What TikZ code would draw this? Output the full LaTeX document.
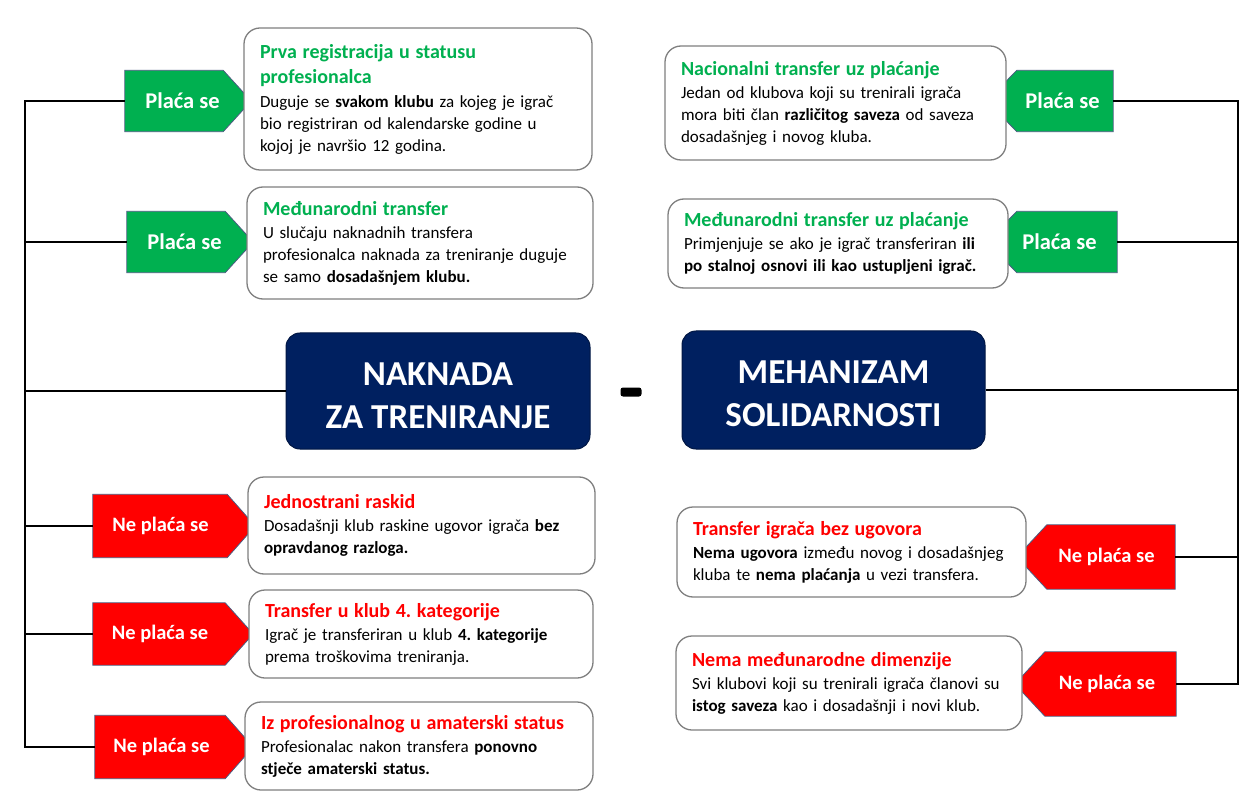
\documentclass[tikz,border=0pt]{standalone}
\usepackage{fontspec}
\setmainfont{Carlito}
\usetikzlibrary{calc}
\definecolor{gr}{HTML}{00B050}
\definecolor{rd}{HTML}{FF0000}
\definecolor{navy}{HTML}{002060}
\definecolor{tagline}{HTML}{4A5C80}
\definecolor{cardline}{HTML}{7F7F7F}
\pgfdeclarelayer{background}
\pgfsetlayers{background,main}
\newcommand\cardttl[2]{\mbox{\color{#1}\bfseries\fontsize{20}{25}\selectfont #2}}
\newcommand\cardrow[1]{\mbox{#1}}
\begin{document}
\frenchspacing
\begin{tikzpicture}[x=1pt,y=-1pt,
  card/.style={draw=cardline, line width=1.3pt, rounded corners=16pt, fill=white, align=left,
    inner xsep=16pt, inner ysep=0pt, font=\fontsize{17}{22}\selectfont},
  tagnode/.style={inner sep=0pt, text=white, font=\fontsize{21}{25}\selectfont\bfseries},
  gtag/.style={tagnode, font=\fontsize{22.5}{25}\selectfont\bfseries},
  rtag/.style={tagnode, font=\fontsize{20.5}{25}\selectfont\bfseries},
  big/.style={fill=navy, draw=navy!70!black, line width=1pt, rounded corners=14pt, text=white,
    align=center, inner sep=0pt, font=\fontsize{35}{43}\selectfont\bfseries},
  conn/.style={draw=black, line width=2pt}]

\useasboundingbox (0,0) rectangle (1252,791);

% ---------- cards left ----------
\node[card, minimum width=348pt, minimum height=142pt, text width=316pt] (c1) at (418,99)
 {\cardttl{gr}{Prva registracija u statusu}\\[3pt]\cardttl{gr}{profesionalca}\\[2pt]
  \cardrow{Duguje se \textbf{svakom klubu} za kojeg je igrač}\\
  \cardrow{bio registriran od kalendarske godine u}\\
  \cardrow{kojoj je navršio 12 godina.}};
\node[card, minimum width=346pt, minimum height=112pt, text width=314pt] (c2) at (420,243)
 {\cardttl{gr}{Međunarodni transfer}\\[1pt]
  \cardrow{U slučaju naknadnih transfera}\\
  \cardrow{profesionalca naknada za treniranje duguje}\\
  \cardrow{se samo \textbf{dosadašnjem klubu.}}};
\node[card, minimum width=347pt, minimum height=97pt, text width=315pt] (c3) at (421.5,525.5)
 {\cardttl{rd}{Jednostrani raskid}\\[1pt]
  \cardrow{Dosadašnji klub raskine ugovor igrača \textbf{bez}}\\
  \cardrow{\textbf{opravdanog razloga.}}};
\node[card, minimum width=344pt, minimum height=88pt, text width=312pt] (c4) at (421,634)
 {\cardttl{rd}{Transfer u klub 4. kategorije}\\[1pt]
  \cardrow{Igrač je transferiran u klub \textbf{4. kategorije}}\\
  \cardrow{prema troškovima treniranja.}};
\node[card, minimum width=348pt, minimum height=88pt, text width=316pt] (c5) at (419,746)
 {\cardttl{rd}{Iz profesionalnog u amaterski status}\\[1pt]
  \cardrow{Profesionalac nakon transfera \textbf{ponovno}}\\
  \cardrow{\textbf{stječe amaterski status.}}};

% ---------- cards right ----------
\node[card, minimum width=341pt, minimum height=114pt, text width=309pt] (d1) at (835.5,103)
 {\cardttl{gr}{Nacionalni transfer uz plaćanje}\\[1pt]
  \cardrow{Jedan od klubova koji su trenirali igrača}\\
  \cardrow{mora biti član \textbf{različitog saveza} od saveza}\\
  \cardrow{dosadašnjeg i novog kluba.}};
\node[card, minimum width=340pt, minimum height=89pt, text width=308pt] (d2) at (838,243.5)
 {\cardttl{gr}{Međunarodni transfer uz plaćanje}\\[1pt]
  \cardrow{Primjenjuje se ako je igrač transferiran \textbf{ili}}\\
  \cardrow{\textbf{po stalnoj osnovi ili kao ustupljeni igrač.}}};
\node[card, minimum width=349pt, minimum height=90pt, text width=317pt] (d3) at (851.5,552)
 {\cardttl{rd}{Transfer igrača bez ugovora}\\[1pt]
  \cardrow{\textbf{Nema ugovora} između novog i dosadašnjeg}\\
  \cardrow{kluba te \textbf{nema plaćanja} u vezi transfera.}};
\node[card, minimum width=346pt, minimum height=94pt, text width=314pt] (d4) at (849,683)
 {\cardttl{rd}{Nema međunarodne dimenzije}\\[1pt]
  \cardrow{Svi klubovi koji su trenirali igrača članovi su}\\
  \cardrow{\textbf{istog saveza} kao i dosadašnji i novi klub.}};

% ---------- centre boxes ----------
\node[big, minimum width=304pt, minimum height=116pt] (nak) at (438,391) {\rule{0pt}{32pt}NAKNADA\\ZA TRENIRANJE};
\node[big, minimum width=303pt, minimum height=118pt] (meh) at (833.5,390) {\rule{0pt}{31pt}MEHANIZAM\\SOLIDARNOSTI};
\node[fill=black, rounded corners=2.5pt, minimum width=21pt, minimum height=9pt, inner sep=0pt] (dash) at (631,392) {};

% ---------- tags ----------
\node[gtag, minimum width=126pt, minimum height=61pt] (gL1) at (188,101) {\hspace*{-11pt}Plaća se};
\node[gtag, minimum width=126pt, minimum height=61pt] (gL2) at (190,242) {\hspace*{-11pt}Plaća se};
\node[rtag, minimum width=162pt, minimum height=63pt] (rL1) at (174,526) {\hspace*{-27pt}Ne plaća se};
\node[rtag, minimum width=160pt, minimum height=62pt] (rL2) at (173,634) {\hspace*{-26pt}Ne plaća se};
\node[rtag, minimum width=158pt, minimum height=63pt] (rL3) at (174,747) {\hspace*{-25pt}Ne plaća se};
\node[gtag, minimum width=126pt, minimum height=61pt] (gR1) at (1050,101) {\hspace*{25pt}Plaća se};
\node[gtag, minimum width=130pt, minimum height=61pt] (gR2) at (1052,242) {\hspace*{15pt}Plaća se};
\node[rtag, minimum width=158pt, minimum height=64pt] (rR1) at (1096,557) {\hspace*{21pt}Ne plaća se};
\node[rtag, minimum width=161pt, minimum height=64pt] (rR2) at (1095.5,684) {\hspace*{23pt}Ne plaća se};

\begin{pgfonlayer}{background}
  \fill[white] (0,0) rectangle (1252,791);
  \foreach \n/\c in {gL1/gr,gL2/gr,rL1/rd,rL2/rd,rL3/rd}
    \filldraw[fill=\c, draw=tagline, line width=0.8pt, line join=miter]
      (\n.south west) -- ([xshift=-28pt]\n.south east) -- (\n.east)
      -- ([xshift=-28pt]\n.north east) -- (\n.north west) -- cycle;
  \foreach \n/\c in {gR1/gr,gR2/gr,rR1/rd,rR2/rd}
    \filldraw[fill=\c, draw=tagline, line width=0.8pt, line join=miter]
      (\n.south east) -- ([xshift=30pt]\n.south west) -- (\n.west)
      -- ([xshift=30pt]\n.north west) -- (\n.north east) -- cycle;
\end{pgfonlayer}

% ---------- connectors ----------
\coordinate (LB) at (25,747);
\coordinate (RB) at (1238,684);
\draw[conn] (gL1.west) -| (LB) -- (rL3.west);
\draw[conn] (gL2.west) -- (gL2.west -| LB);
\draw[conn] (nak.west) -- (nak.west -| LB);
\draw[conn] (rL1.west) -- (rL1.west -| LB);
\draw[conn] (rL2.west) -- (rL2.west -| LB);
\draw[conn] (gR1.east) -| (RB) -- (rR2.east);
\draw[conn] (gR2.east) -- (gR2.east -| RB);
\draw[conn] (meh.east) -- (meh.east -| RB);
\draw[conn] (rR1.east) -- (rR1.east -| RB);
\end{tikzpicture}
\end{document}
